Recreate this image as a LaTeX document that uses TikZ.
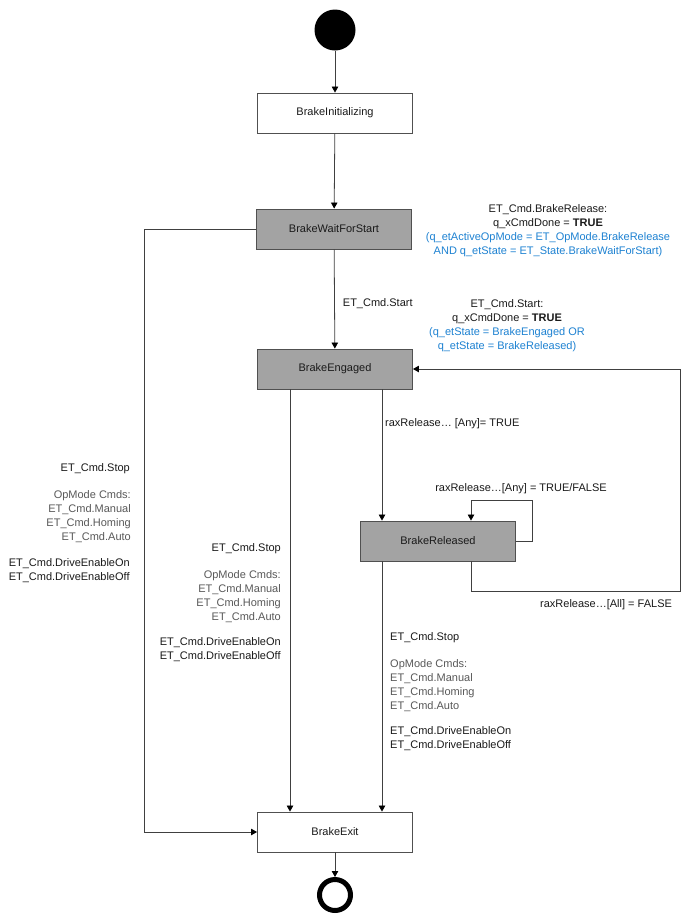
\documentclass[tikz,border=0pt]{standalone}
\usepackage{fontspec}
\setmainfont{Liberation Sans}
\usetikzlibrary{arrows.meta}
\definecolor{boxgray}{HTML}{A3A3A3}
\definecolor{edgec}{HTML}{404040}
\definecolor{boxedge}{HTML}{505050}
\definecolor{txt}{HTML}{1A1A1A}
\definecolor{optxt}{HTML}{595959}
\definecolor{bluetxt}{HTML}{1E82D2}
\begin{document}
\begin{tikzpicture}[x=1pt,y=-1pt,
  every node/.style={font=\fontsize{11}{14}\selectfont, text=txt},
  state/.style={draw=boxedge, line width=0.9pt, minimum width=155pt, minimum height=40pt, inner sep=0pt},
  activestate/.style={state, fill=boxgray},
  idlestate/.style={state, fill=white},
  conn/.style={draw=edgec, line width=0.8pt, -{Triangle[length=6pt,width=6.5pt,color=black]}},
  lbl/.style={inner sep=0pt},
  oplbl/.style={lbl, text=optxt},
  bluelbl/.style={lbl, text=bluetxt, align=center},
  blklbl/.style={lbl, align=center}]
\fill[white] (0,0) rectangle (691,922);
\useasboundingbox (0,0) rectangle (691,922);

% states
\node[circle, fill=black, minimum size=41pt, inner sep=0pt] (start) at (335,30) {};
\node[idlestate] (init) at (335,113) {BrakeInitializing};
\node[activestate] (wait) at (334,229) {BrakeWaitForStart};
\node[activestate] (eng) at (335,369) {BrakeEngaged};
\node[activestate] (rel) at (438,541) {BrakeReleased};
\node[idlestate] (exit) at (335,832) {BrakeExit};
\node[circle, draw=black, line width=5pt, minimum size=31pt, inner sep=0pt] (end) at (335,895) {};

% helper coordinates
\coordinate (xa) at (290,0);
\coordinate (xb) at (382,0);
\coordinate (xc) at (471,0);
\coordinate (sl) at (532,500);
\coordinate (rb) at (680,591);
\coordinate (lc) at (144,229);

% connectors
\draw[conn] (start) -- (init);
\draw[conn] (init) -- (wait);
\draw[conn] (wait) -- node[lbl, right=8pt, pos=0.55] (lstart) {ET\_Cmd.Start} (eng);
\draw[conn] (wait.west) -- (lc) |- (exit.west);
\draw[conn] (eng.south -| xa) -- (exit.north -| xa);
\draw[conn] (eng.south -| xb) -- (rel.north -| xb);
\draw[conn] (rel.south -| xb) -- (exit.north -| xb);
\draw[conn] (rel.east) -| (sl) -| (rel.north -| xc);
\draw[conn] (rel.south -| xc) |- (rb) |- (eng.east);
\draw[conn] (exit) -- (end);

% top guard labels
\node[blklbl, anchor=north] (g1a) at (548,204) {ET\_Cmd.BrakeRelease:\\q\_xCmdDone = \textbf{TRUE}};
\node[bluelbl, anchor=north] (g1b) at (548,232) {(q\_etActiveOpMode = ET\_OpMode.BrakeRelease\\AND q\_etState = ET\_State.BrakeWaitForStart)};
\node[blklbl, anchor=north] (g2a) at (507,299) {ET\_Cmd.Start:\\q\_xCmdDone = \textbf{TRUE}};
\node[bluelbl, anchor=north] (g2b) at (507,327) {(q\_etState = BrakeEngaged OR\\q\_etState = BrakeReleased)};

% release labels
\node[lbl, anchor=west] (lany) at (385,424) {raxRelease… [Any]= TRUE};
\node[lbl] (lself) at (521,489) {raxRelease…[Any] = TRUE/FALSE};
\node[lbl, anchor=west] (lall) at (540,605) {raxRelease…[All] = FALSE};

% left block
\node[lbl, anchor=north east] (l1) at (130,463) {ET\_Cmd.Stop};
\node[oplbl, anchor=north east, align=right] (l2) at (131,490) {OpMode Cmds:\\ET\_Cmd.Manual\\ET\_Cmd.Homing\\ET\_Cmd.Auto};
\node[lbl, anchor=north east, align=left] (l3) at (130,558) {ET\_Cmd.DriveEnableOn\\ET\_Cmd.DriveEnableOff};

% middle block
\node[lbl, anchor=north east] (m1) at (281,543) {ET\_Cmd.Stop};
\node[oplbl, anchor=north east, align=right] (m2) at (281,570) {OpMode Cmds:\\ET\_Cmd.Manual\\ET\_Cmd.Homing\\ET\_Cmd.Auto};
\node[lbl, anchor=north east, align=left] (m3) at (281,637) {ET\_Cmd.DriveEnableOn\\ET\_Cmd.DriveEnableOff};

% right block
\node[lbl, anchor=north west] (r1) at (390,632) {ET\_Cmd.Stop};
\node[oplbl, anchor=north west, align=left] (r2) at (390,659) {OpMode Cmds:\\ET\_Cmd.Manual\\ET\_Cmd.Homing\\ET\_Cmd.Auto};
\node[lbl, anchor=north west, align=left] (r3) at (390,726) {ET\_Cmd.DriveEnableOn\\ET\_Cmd.DriveEnableOff};
\end{tikzpicture}
\end{document}
